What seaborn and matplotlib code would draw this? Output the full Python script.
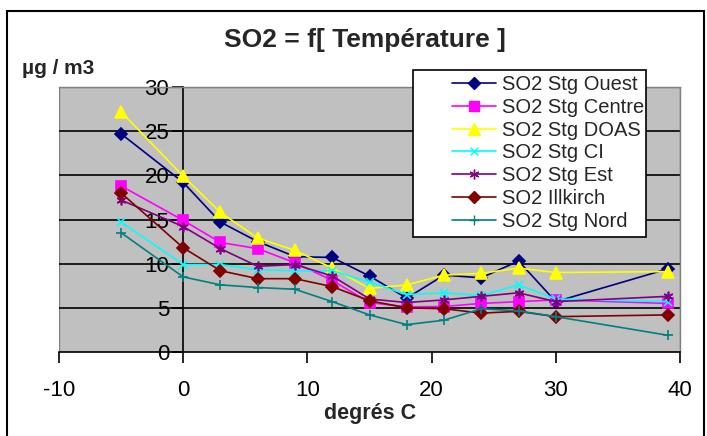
import matplotlib
matplotlib.use("Agg")
import matplotlib.pyplot as plt
import seaborn as sns
import pandas as pd
from matplotlib.patches import Rectangle
from matplotlib.lines import Line2D

# ---- data ----
temperature = [-5, 0, 3, 6, 9, 12, 15, 18, 21, 24, 27, 30, 39]
so2_ouest = [24.7, 19.2, 14.7, 12.5, 10.8, 10.7, 8.6, 6.1, 8.7, 8.4, 10.3, 5.7, 9.4]
so2_centre = [18.8, 14.9, 12.4, 11.7, 10.1, 8.1, 5.6, 5.1, 5.15, 5.5, 5.7, 5.9, 5.5]
so2_doas = [27.2, 19.9, 15.8, 12.9, 11.5, 9.5, 7.2, 7.6, 8.7, 8.9, 9.5, 9.0, 9.1]
so2_ci = [14.7, 9.9, 9.9, 9.3, 9.2, 9.2, 7.9, 6.5, 6.7, 6.4, 7.6, 6.0, 5.7]
so2_est = [17.2, 14.2, 11.7, 9.7, 9.9, 8.6, 6.0, 5.6, 5.9, 6.3, 6.7, 5.7, 6.3]
so2_illkirch = [18.0, 11.8, 9.2, 8.3, 8.3, 7.4, 5.8, 5.0, 4.9, 4.4, 4.6, 4.0, 4.2]
so2_nord = [13.5, 8.5, 7.6, 7.3, 7.1, 5.7, 4.2, 3.1, 3.6, 4.9, 4.65, 4.0, 1.9]

series_names = ["SO2 Stg Ouest", "SO2 Stg Centre", "SO2 Stg DOAS", "SO2 Stg CI",
                "SO2 Stg Est", "SO2 Illkirch", "SO2 Stg Nord"]
series_values = [so2_ouest, so2_centre, so2_doas, so2_ci, so2_est, so2_illkirch, so2_nord]
y_ticks = [0, 5, 10, 15, 20, 25, 30]
x_ticks = [-10, 0, 10, 20, 30, 40]

# ---- styles ----
colors = ["#000080", "#FF00FF", "#FFFF00", "#00FFFF", "#800080", "#800000", "#008080"]
markers = ["D", "s", "^", "x", (6, 2, 0), "D", "+"]
msizes = [6, 7, 8, 6, 7, 6, 7]

sns.set_theme(style="white")
plt.rcParams["font.family"] = ["Liberation Sans", "DejaVu Sans"]

fig = plt.figure(figsize=(7.07, 4.36), dpi=100)
fig.patch.set_facecolor("white")
W, H = 707.0, 436.0
L, R, T, B = 59, 680, 87, 352
ax = fig.add_axes([L / W, 1 - B / H, (R - L) / W, (B - T) / H])
ax.set_facecolor("#C0C0C0")

for name, vals, c, m, ms in zip(series_names, series_values, colors, markers, msizes):
    d = pd.DataFrame({"T": temperature, "v": vals})
    sns.lineplot(data=d, x="T", y="v", ax=ax, color=c, marker=m, markersize=ms,
                 markeredgecolor=c, markerfacecolor=c, markeredgewidth=1.2,
                 linewidth=1.2, sort=False, label=None, legend=False, clip_on=False,
                 zorder=3)

ax.spines["left"].set_position(("data", 0))
ax.set_xlim(-10, 40)
ax.set_ylim(0, 30)
ax.set_xticks(x_ticks)
ax.set_yticks(y_ticks)
ax.set_xticklabels([str(v) for v in x_ticks])
ax.set_yticklabels([str(v) for v in y_ticks])
ax.set_xlabel("")
ax.set_ylabel("")

for yv in y_ticks[1:]:
    ax.axhline(yv, color="black", lw=1.2, zorder=1)

ax.spines["left"].set_color("black")
ax.spines["left"].set_linewidth(1.2)
ax.spines["bottom"].set_color("black")
ax.spines["bottom"].set_linewidth(1.2)
ax.spines["top"].set_color("#808080")
ax.spines["right"].set_color("#808080")
ax.spines["top"].set_linewidth(1.0)
ax.spines["right"].set_linewidth(1.0)
ax.add_patch(Rectangle((0, 0), 1, 1, transform=ax.transAxes, fill=False,
                       edgecolor="#808080", lw=1.0, zorder=0.5))
ax.tick_params(axis="both", direction="out", length=8, width=1.2, color="black",
               labelcolor="black", bottom=True, left=True, labelsize=16)
ax.tick_params(axis="x", pad=12)
ax.tick_params(axis="y", pad=2)

# titles
fig.text(365 / W, 1 - 40 / H, "SO2 = f[ Température ]", ha="center", va="center",
         fontsize=19, fontweight="bold")
fig.text(22 / W, 1 - 69 / H, "µg / m3", ha="left", va="center",
         fontsize=15, fontweight="bold")
fig.text(370 / W, 1 - 413 / H, "degrés C", ha="center", va="center",
         fontsize=15.5, fontweight="bold")

# legend (manual frame)
handles = [Line2D([], [], color=c, marker=m, markersize=ms, markeredgecolor=c,
                  markerfacecolor=c, lw=1.2) for c, m, ms in zip(colors, markers, msizes)]
fig.patches.append(Rectangle((413 / W, 1 - 237 / H), (646 - 413) / W, (237 - 70) / H,
                             transform=fig.transFigure, facecolor="white",
                             edgecolor="black", lw=1.2, zorder=3))
leg = fig.legend(handles, series_names, loc="upper left",
                 bbox_to_anchor=(450 / W, 1 - 73 / H), frameon=False, fontsize=14.5,
                 handlelength=2.2, handletextpad=0.3, labelspacing=0.19,
                 borderpad=0.1, borderaxespad=0)
leg.set_zorder(4)

# outer figure frame
fig.patches.append(Rectangle((7 / W, -0.05), (704 - 7) / W, 1.05 - 11 / H,
                             transform=fig.transFigure, fill=False,
                             edgecolor="black", lw=1.5, zorder=5))

fig.savefig("out.png", dpi=100)
